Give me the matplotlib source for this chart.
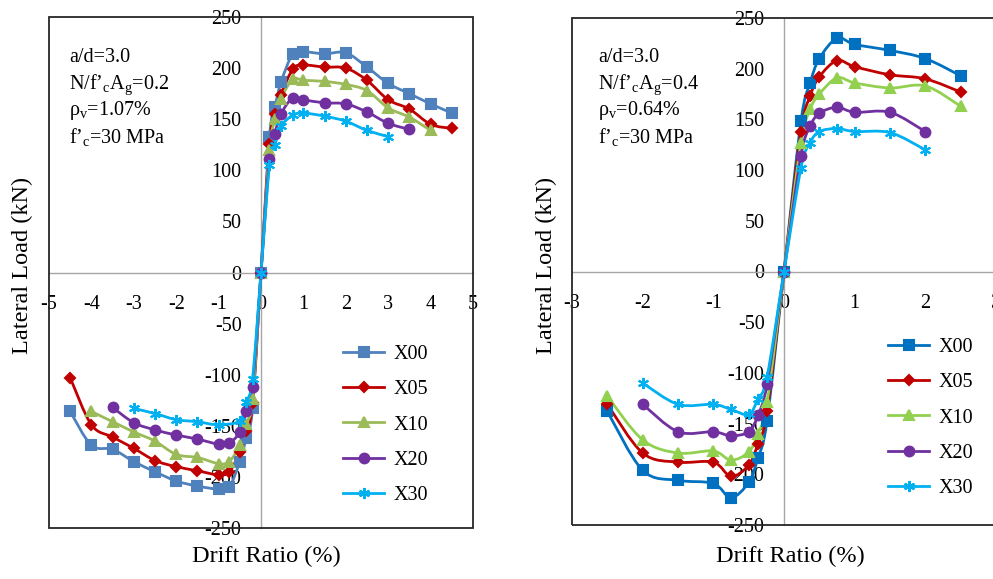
import matplotlib
matplotlib.use("Agg")
import matplotlib.pyplot as plt
from matplotlib.path import Path
from matplotlib.patches import PathPatch, Rectangle
from matplotlib.lines import Line2D

plt.rcParams['font.family'] = ['Liberation Serif', 'DejaVu Serif']
plt.rcParams['mathtext.fontset'] = 'custom'
plt.rcParams['mathtext.rm'] = 'Liberation Serif'
plt.rcParams['mathtext.it'] = 'Liberation Serif:italic'
plt.rcParams['axes.unicode_minus'] = False

series_names = ["X00", "X05", "X10", "X20", "X30"]

# ---------------- Left panel (N/f'cAg = 0.2) ----------------
L_pos_drift = [0, 0.2, 0.33, 0.47, 0.75, 1, 1.5, 2, 2.5, 3, 3.5, 4, 4.5]
L_neg_drift = [0, -0.2, -0.35, -0.5, -0.75, -1, -1.5, -2, -2.5, -3, -3.5, -4, -4.5]
L_X30_neg_drift = [0, -0.2, -0.35, -0.5, -1, -1.5, -2, -2.5, -3]

L_X00_pos = [0, 133, 162, 186, 214, 216, 214, 215, 201, 185, 175, 165, 156]
L_X05_pos = [0, 126, 155, 174, 199, 203, 201, 200, 188, 169, 160, 145, 141]
L_X10_pos = [0, 120, 150, 170, 189, 188, 187, 184, 178, 161, 152, 139]
L_X20_pos = [0, 111, 136, 155, 171, 169, 166, 165, 157, 146, 140]
L_X30_pos = [0, 105, 125, 143, 154, 156, 153, 148, 139, 133]

L_X00_neg = [0, -133, -162, -185, -210, -212, -209, -204, -195, -185, -173, -169, -136]
L_X05_neg = [0, -128, -155, -176, -195, -198, -194, -190, -184, -172, -161, -149, -103]
L_X10_neg = [0, -124, -148, -169, -185, -187, -181, -178, -165, -156, -146, -136]
L_X20_neg = [0, -112, -136, -156, -167, -168, -163, -159, -154, -147, -132]
L_X30_neg = [0, -104, -127, -145, -149, -146, -144, -138, -133]

# ---------------- Right panel (N/f'cAg = 0.4) ----------------
R_pos_drift = [0, 0.24, 0.37, 0.5, 0.75, 1, 1.5, 2, 2.5]
R_neg_drift = [0, -0.24, -0.37, -0.5, -0.75, -1, -1.5, -2, -2.5]

R_X00_pos = [0, 148, 186, 210, 230, 224, 218, 210, 193]
R_X05_pos = [0, 138, 173, 192, 208, 202, 194, 190, 177]
R_X10_pos = [0, 127, 160, 175, 191, 186, 181, 183, 163]
R_X20_pos = [0, 114, 143, 156, 162, 157, 157, 138]
R_X30_pos = [0, 102, 127, 138, 141, 138, 137, 120]

R_X00_neg = [0, -147, -184, -208, -223, -209, -206, -196, -138]
R_X05_neg = [0, -138, -170, -191, -202, -188, -188, -179, -131]
R_X10_neg = [0, -129, -160, -178, -186, -177, -179, -166, -123]
R_X20_neg = [0, -111, -142, -158, -162, -158, -158, -131]
R_X30_neg = [0, -104, -126, -141, -136, -131, -131, -110]

L_colors = ["#4F81BD", "#C00000", "#9BBB59", "#7030A0", "#00B0F0"]
R_colors = ["#0070C0", "#C00000", "#92D050", "#7030A0", "#00B0F0"]
markers = ["s", "D", "^", "o", (6, 2, 0)]
msizes = [6.5, 5.0, 7.0, 7.0, 8.0]

L_notes = ["a/d=3.0", "N/f’$_\\mathregular{c}$A$_\\mathregular{g}$=0.2",
           "ρ$_\\mathregular{v}$=1.07%", "f’$_\\mathregular{c}$=30 MPa"]
R_notes = ["a/d=3.0", "N/f’$_\\mathregular{c}$A$_\\mathregular{g}$=0.4",
           "ρ$_\\mathregular{v}$=0.64%", "f’$_\\mathregular{c}$=30 MPa"]

W, H = 993, 579
fig = plt.figure(figsize=(W / 100, H / 100), dpi=100)


def fx(px):
    return px / W


def fy(py):
    return (H - py) / H


def smooth_path(xs, ys):
    # Excel-style smoothed line: cubic Bezier segments through the points
    n = len(xs)
    verts = [(xs[0], ys[0])]
    codes = [Path.MOVETO]
    for i in range(n - 1):
        x0, y0 = (xs[i - 1], ys[i - 1]) if i > 0 else (xs[i], ys[i])
        x1, y1 = xs[i], ys[i]
        x2, y2 = xs[i + 1], ys[i + 1]
        x3, y3 = (xs[i + 2], ys[i + 2]) if i + 2 < n else (xs[i + 1], ys[i + 1])
        t = 6.0
        c1 = (x1 + (x2 - x0) / t, y1 + (y2 - y0) / t)
        c2 = (x2 - (x3 - x1) / t, y2 - (y3 - y1) / t)
        verts += [c1, c2, (x2, y2)]
        codes += [Path.CURVE4, Path.CURVE4, Path.CURVE4]
    return Path(verts, codes)


def panel(rect, xlim, xticks, series, colors, notes, note_x, legend_xy):
    l, t, r, b = rect
    ax = fig.add_axes([fx(l), fy(b), fx(r) - fx(l), fy(t) - fy(b)])
    ax.set_xlim(*xlim)
    ax.set_ylim(-250, 250)
    ax.set_xticks(xticks)
    ax.set_yticks(range(-250, 251, 50))
    ax.set_xticklabels([str(v) for v in xticks])
    ax.set_yticklabels([str(v) for v in range(-250, 251, 50)])
    for s in ["top", "right"]:
        ax.spines[s].set_visible(False)
    for s in ["left", "bottom"]:
        ax.spines[s].set_position(("data", 0))
        ax.spines[s].set_color("#A6A6A6")
        ax.spines[s].set_linewidth(1.0)
    ax.tick_params(axis="both", length=0, labelsize=14.5, colors="black")
    ax.tick_params(axis="x", pad=16)
    ax.tick_params(axis="y", pad=14)
    ax.set_axisbelow(True)
    ax.add_patch(Rectangle((0, 0), 1, 1, transform=ax.transAxes, fill=False,
                           edgecolor="#262626", lw=1.3, clip_on=False, zorder=5))
    handles = []
    for k, (dneg, vneg, dpos, vpos) in enumerate(series):
        xs = list(reversed(dneg)) + list(dpos[1:])
        ys = list(reversed(vneg)) + list(vpos[1:])
        ax.add_patch(PathPatch(smooth_path(xs, ys), fill=False, edgecolor=colors[k],
                               lw=2.0, zorder=3, capstyle="round", joinstyle="round"))
        ax.plot(xs, ys, linestyle="none", marker=markers[k], ms=msizes[k],
                color=colors[k], mec=colors[k], mew=1.5, zorder=4)
        handles.append(Line2D([], [], color=colors[k], lw=2.0, marker=markers[k],
                              ms=msizes[k], mew=1.5))
    ax.legend(handles, series_names, loc="upper left",
              bbox_to_anchor=(fx(legend_xy[0]), fy(legend_xy[1])),
              bbox_transform=fig.transFigure, frameon=False, fontsize=14.5,
              handlelength=2.05, handletextpad=0.45, labelspacing=0.8,
              borderpad=0, borderaxespad=0)
    for i, txt in enumerate(notes):
        fig.text(fx(note_x), fy(58 + 26.5 * i), txt, fontsize=14.5,
                 ha="left", va="center")
    return ax


L_series = [
    (L_neg_drift, L_X00_neg, L_pos_drift, L_X00_pos),
    (L_neg_drift, L_X05_neg, L_pos_drift, L_X05_pos),
    (L_neg_drift[:12], L_X10_neg, L_pos_drift[:12], L_X10_pos),
    (L_neg_drift[:11], L_X20_neg, L_pos_drift[:11], L_X20_pos),
    (L_X30_neg_drift, L_X30_neg, L_pos_drift[:10], L_X30_pos),
]
R_series = [
    (R_neg_drift, R_X00_neg, R_pos_drift, R_X00_pos),
    (R_neg_drift, R_X05_neg, R_pos_drift, R_X05_pos),
    (R_neg_drift, R_X10_neg, R_pos_drift, R_X10_pos),
    (R_neg_drift[:8], R_X20_neg, R_pos_drift[:8], R_X20_pos),
    (R_neg_drift[:8], R_X30_neg, R_pos_drift[:8], R_X30_pos),
]

panel((49, 17, 473, 528), (-5, 5), list(range(-5, 6)), L_series, L_colors,
      L_notes, 69, (343, 345))
panel((572, 18, 996, 525), (-3, 3), list(range(-3, 4)), R_series, R_colors,
      R_notes, 598, (888, 338))

fig.text(fx(22), fy(265), "Lateral Load (kN)", rotation=90, fontsize=17.5,
         ha="center", va="center")
fig.text(fx(546), fy(265), "Lateral Load (kN)", rotation=90, fontsize=17.5,
         ha="center", va="center")
fig.text(fx(266), fy(556), "Drift Ratio (%)", fontsize=17.5, ha="center", va="center")
fig.text(fx(790), fy(556), "Drift Ratio (%)", fontsize=17.5, ha="center", va="center")

fig.savefig("out.png", dpi=100)
